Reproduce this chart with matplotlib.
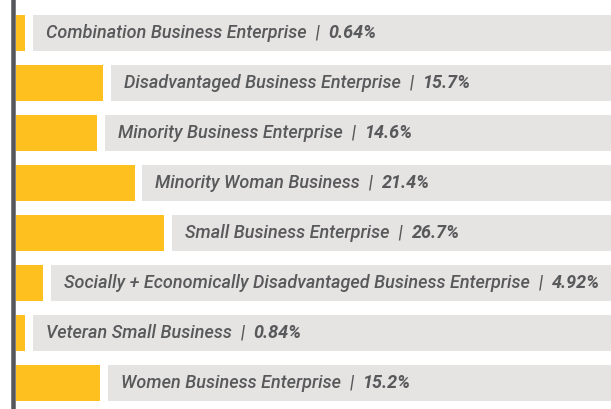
import numpy as np
import matplotlib.pyplot as plt
from matplotlib.lines import Line2D

# Data
categories = [
    "Combination Business Enterprise",
    "Disadvantaged Business Enterprise",
    "Minority Business Enterprise",
    "Minority Woman Business",
    "Small Business Enterprise",
    "Socially + Economically Disadvantaged Business Enterprise",
    "Veteran Small Business",
    "Women Business Enterprise",
]
values = [0.64, 15.7, 14.6, 21.4, 26.7, 4.92, 0.84, 15.2]
value_labels = ["0.64%", "15.7%", "14.6%", "21.4%", "26.7%", "4.92%", "0.84%", "15.2%"]

W, H = 611, 409
px_per_pct = 5.55
x0_px = 16
xmin = -x0_px / px_per_pct
xmax = (W - x0_px) / px_per_pct
gap = 7.5 / px_per_pct
min_w = 9 / px_per_pct

yellow = "#fdc01f"
box_grey = "#e6e3e3"
text_grey = "#58595b"
font = "Roboto"
fs = 13

fig = plt.figure(figsize=(W / 100, H / 100), dpi=100)
ax = fig.add_axes([0, 0, 1, 1])
ax.set_xlim(xmin, xmax)
ax.set_ylim((H - 33) / 50, -33 / 50)
ax.axis("off")

y = np.arange(len(categories))
shown = np.maximum(values, min_w)
ax.barh(y, shown, height=0.72, color=yellow, left=0)
box_left = shown + gap
ax.barh(y, xmax - box_left, left=box_left, height=0.72, color=box_grey)

for yi, bl, cat, lab in zip(y, box_left, categories, value_labels):
    t = ax.text(bl + 13 / px_per_pct, yi, cat + "  |  ", ha="left", va="center",
                fontsize=fs, style="italic", weight="medium", color=text_grey,
                family=font)
    ax.annotate(lab, xy=(1, 0), xycoords=t, ha="left", va="bottom",
                fontsize=fs, style="italic", weight="bold", color=text_grey,
                family=font)

# left axis bar
fig.add_artist(Line2D([12.5 / W, 12.5 / W], [0, 1], color="#55565a",
                      linewidth=4.5 * 72 / 100, transform=fig.transFigure))

fig.savefig("out.png", dpi=100)
